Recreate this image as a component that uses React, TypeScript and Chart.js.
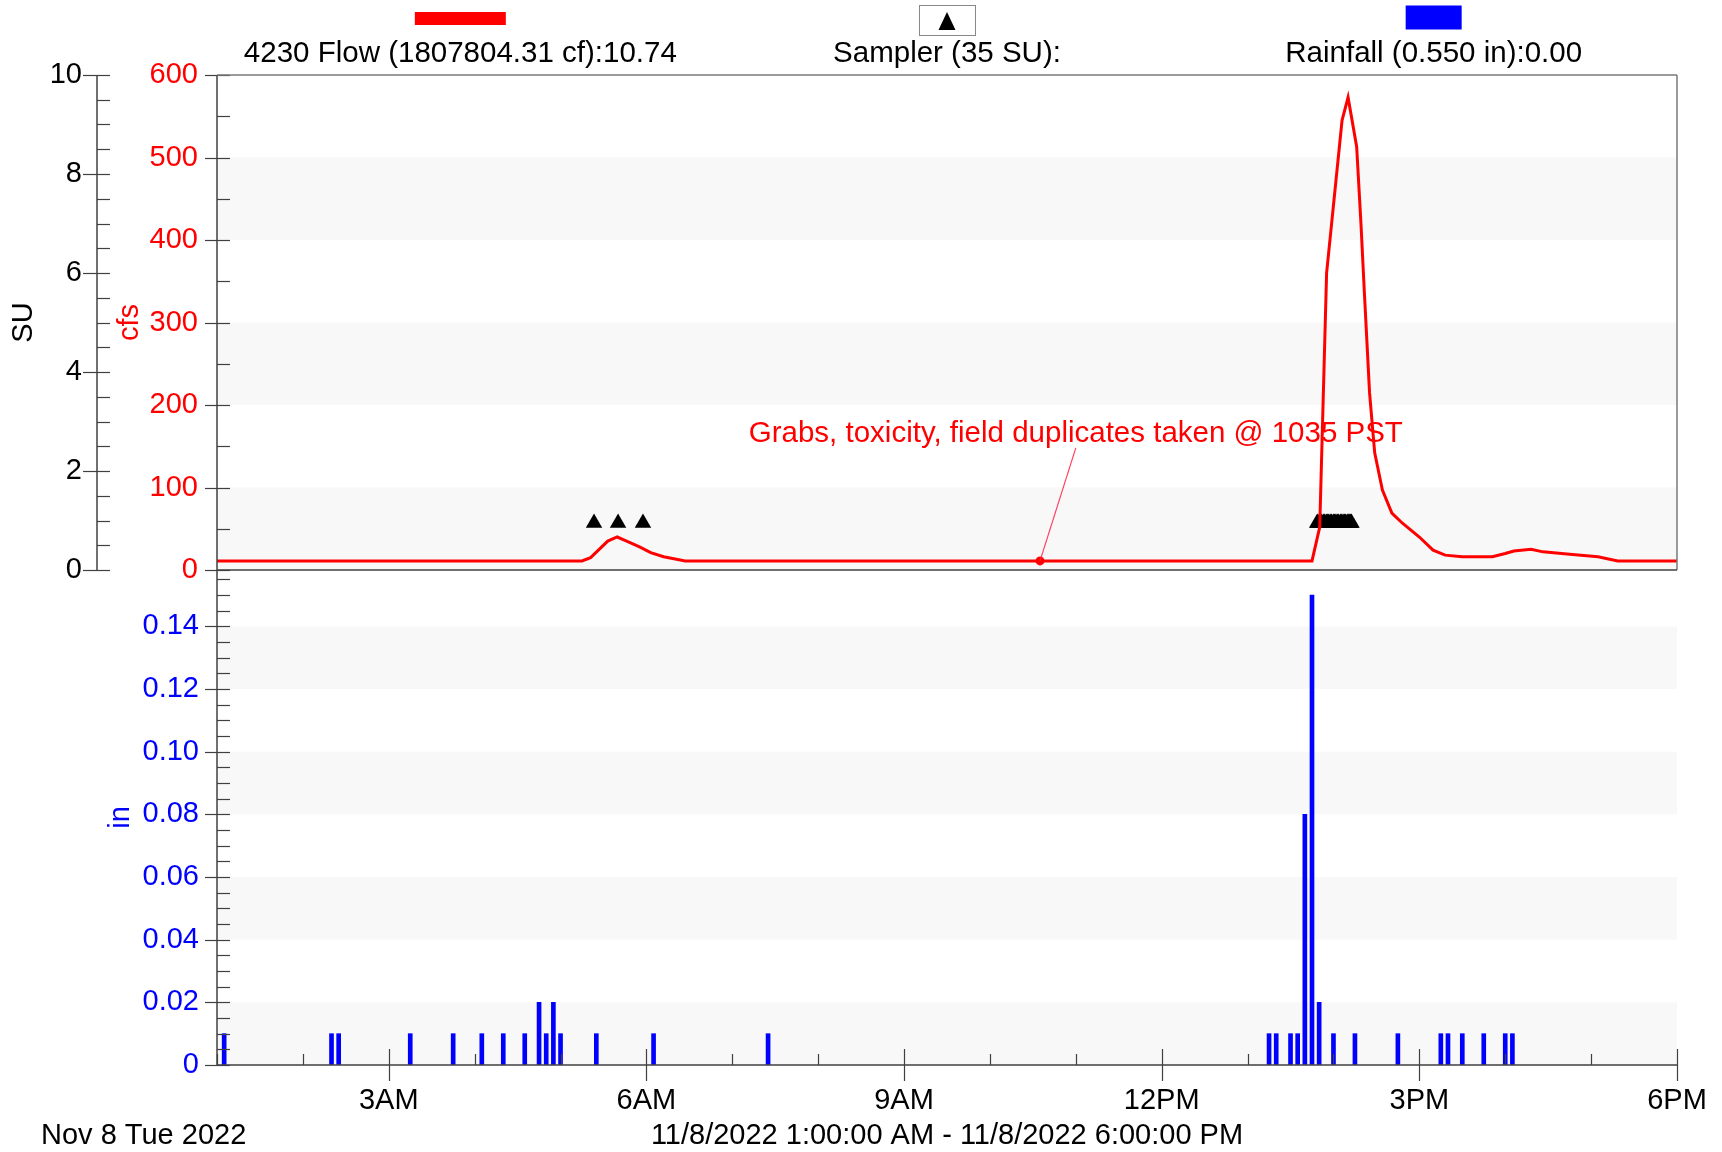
import React, { useEffect, useRef } from 'react';
import { Chart, registerables } from 'chart.js';

Chart.register(...registerables);

const FONT = "'Liberation Sans', Arial, Helvetica, sans-serif";

// ---- time axis (hours of 11/8/2022) ----
const timeStart = 1;
const timeEnd = 18;
const xTickHours = [3, 6, 9, 12, 15, 18];
const xTickLabels = ['3AM', '6AM', '9AM', '12PM', '3PM', '6PM'];
const dateLabel = 'Nov 8 Tue 2022';
const rangeLabel = '11/8/2022 1:00:00 AM - 11/8/2022 6:00:00 PM';

// ---- 4230 Flow (cfs) ----
const flowLabel = '4230 Flow (1807804.31 cf):10.74';
const flowTimes = [1.0, 5.25, 5.35, 5.45, 5.55, 5.66, 5.75, 5.92, 6.05, 6.2, 6.35, 6.45,
  13.75, 13.84, 13.92, 14.1, 14.17, 14.27, 14.32, 14.36, 14.42, 14.48, 14.57, 14.68, 14.8,
  15.0, 15.16, 15.3, 15.5, 15.85, 16.0, 16.1, 16.3, 16.44, 16.75, 17.08, 17.31, 18.0];
const flowValues = [11, 11, 15, 25, 35, 40, 36, 28, 21, 16, 13, 11,
  11, 52, 360, 545, 573, 513, 420, 336, 215, 142, 97, 69, 57,
  40, 24, 18, 16, 16, 20, 23, 25, 22, 19, 16, 11, 11];

// ---- Sampler (SU) ----
const samplerLabel = 'Sampler (35 SU):';
const samplerTimes = [5.39, 5.67, 5.96,
  13.81, 13.82, 13.84, 13.85, 13.86, 13.88, 13.89, 13.9, 13.92, 13.93, 13.94, 13.96, 13.97, 13.98,
  14.0, 14.01, 14.02, 14.04, 14.05, 14.06, 14.08, 14.09, 14.1, 14.12, 14.13, 14.14, 14.16, 14.17,
  14.18, 14.19, 14.2, 14.21];
const samplerValues = [0.95, 0.95, 0.95,
  0.95, 0.95, 0.95, 0.95, 0.95, 0.95, 0.95, 0.95, 0.95, 0.95, 0.95, 0.95, 0.95, 0.95,
  0.95, 0.95, 0.95, 0.95, 0.95, 0.95, 0.95, 0.95, 0.95, 0.95, 0.95, 0.95, 0.95, 0.95,
  0.95, 0.95, 0.95, 0.95];

// ---- Rainfall (in) ----
const rainLabel = 'Rainfall (0.550 in):0.00';
const rainTimes = ['1:05', '2:20', '2:25', '3:15', '3:45', '4:05', '4:20', '4:35', '4:45', '4:50',
  '4:55', '5:00', '5:25', '6:05', '7:25',
  '13:15', '13:20', '13:30', '13:35', '13:40', '13:45', '13:50', '14:00', '14:15', '14:45',
  '15:15', '15:20', '15:30', '15:45', '16:00', '16:05'];
const rainValues = [0.01, 0.01, 0.01, 0.01, 0.01, 0.01, 0.01, 0.01, 0.02, 0.01,
  0.02, 0.01, 0.01, 0.01, 0.01,
  0.01, 0.01, 0.01, 0.01, 0.08, 0.15, 0.02, 0.01, 0.01, 0.01,
  0.01, 0.01, 0.01, 0.01, 0.01, 0.01];

// ---- axes ----
const suTicks = [0, 2, 4, 6, 8, 10];
const cfsTicks = [0, 100, 200, 300, 400, 500, 600];
const inTicks = [0, 0.02, 0.04, 0.06, 0.08, 0.1, 0.12, 0.14];
const inMax = 0.158;
const cfsBands = [[0, 100], [200, 300], [400, 500]];
const inBands = [[0, 0.02], [0.04, 0.06], [0.08, 0.1], [0.12, 0.14]];

// ---- annotation ----
const annotationText = 'Grabs, toxicity, field duplicates taken @ 1035 PST';
const annotationTime = 10 + 35 / 60;
const annotationCfs = 11;
const annotationTextTime = 11.0;
const annotationTextCfs = 165;
const annotationLineEndCfs = 148;

const AXIS = '#404040';
const FRAME = '#7a7a7a';
const BAND = '#f8f8f8';

function hm(s: string) {
  const [h, m] = s.split(':').map(Number);
  return h + m / 60;
}

function seg(ctx: CanvasRenderingContext2D, x1: number, y1: number, x2: number, y2: number) {
  ctx.beginPath();
  ctx.moveTo(x1, y1);
  ctx.lineTo(x2, y2);
  ctx.stroke();
}

function drawYAxis(ctx: CanvasRenderingContext2D, scale: any, x: number, top: number, bottom: number,
  majors: number[], minorStep: number, majorOut: number, inLen: number) {
  ctx.save();
  ctx.strokeStyle = AXIS;
  ctx.lineWidth = 1.5;
  seg(ctx, x, top, x, bottom);
  ctx.lineWidth = 1.2;
  const n = Math.floor((scale.max - scale.min) / minorStep + 1e-6);
  for (let k = 0; k <= n; k++) {
    const v = scale.min + k * minorStep;
    const y = Math.round(scale.getPixelForValue(v)) + 0.5;
    const isMajor = majors.some((m) => Math.abs(m - v) < minorStep / 10);
    seg(ctx, isMajor ? x - majorOut : x, y, x + inLen, y);
  }
  ctx.restore();
}

function drawBands(ctx: CanvasRenderingContext2D, ca: any, scale: any, bands: number[][]) {
  ctx.save();
  ctx.fillStyle = BAND;
  for (const [a, b] of bands) {
    const ya = scale.getPixelForValue(a);
    const yb = scale.getPixelForValue(b);
    ctx.fillRect(ca.left, yb, ca.right - ca.left, ya - yb);
  }
  ctx.restore();
}

const panelA = {
  id: 'panelA',
  beforeDatasetsDraw(chart: any) {
    drawBands(chart.ctx, chart.chartArea, chart.scales.cfs, cfsBands);
  },
  afterDatasetsDraw(chart: any) {
    const { ctx, scales } = chart;
    const x = scales.x;
    const y = scales.cfs;
    ctx.save();
    ctx.strokeStyle = 'rgba(255,30,70,0.85)';
    ctx.lineWidth = 1.2;
    seg(ctx, x.getPixelForValue(annotationTime), y.getPixelForValue(annotationCfs),
      x.getPixelForValue(annotationTextTime), y.getPixelForValue(annotationLineEndCfs));
    ctx.fillStyle = '#ff0000';
    ctx.font = `29.5px ${FONT}`;
    ctx.textAlign = 'center';
    ctx.textBaseline = 'middle';
    ctx.fillText(annotationText, x.getPixelForValue(annotationTextTime), y.getPixelForValue(annotationTextCfs));
    ctx.restore();
  },
  afterDraw(chart: any) {
    const { ctx, chartArea: ca, scales } = chart;
    drawYAxis(ctx, scales.su, scales.su.right, ca.top, ca.bottom, suTicks, 0.5, 14, 13);
    drawYAxis(ctx, scales.cfs, ca.left, ca.top, ca.bottom, cfsTicks, 50, 12, 13);
    ctx.save();
    ctx.strokeStyle = FRAME;
    ctx.lineWidth = 1.5;
    seg(ctx, ca.left, ca.top, ca.right, ca.top);
    seg(ctx, ca.right, ca.top, ca.right, ca.bottom);
    ctx.strokeStyle = AXIS;
    seg(ctx, ca.left, ca.bottom, ca.right, ca.bottom);

    // legend
    const third = (ca.right - ca.left) / 3;
    const c = [0, 1, 2].map((i) => ca.left + third * (i + 0.5));
    ctx.fillStyle = '#ff0000';
    ctx.fillRect(c[0] - 45.5, 12, 91, 13);
    ctx.strokeStyle = '#888';
    ctx.lineWidth = 1;
    ctx.strokeRect(Math.round(c[1] - 28) + 0.5, 5.5, 56, 30);
    ctx.fillStyle = '#000';
    ctx.beginPath();
    ctx.moveTo(c[1], 12);
    ctx.lineTo(c[1] - 8.5, 30);
    ctx.lineTo(c[1] + 8.5, 30);
    ctx.closePath();
    ctx.fill();
    ctx.fillStyle = '#0000ff';
    ctx.fillRect(c[2] - 28, 5.5, 56, 24);
    ctx.fillStyle = '#000';
    ctx.font = `29.5px ${FONT}`;
    ctx.textAlign = 'center';
    ctx.textBaseline = 'middle';
    ctx.fillText(flowLabel, c[0], 54);
    ctx.fillText(samplerLabel, c[1], 54);
    ctx.fillText(rainLabel, c[2], 54);
    ctx.restore();
  },
};

const panelB = {
  id: 'panelB',
  beforeDatasetsDraw(chart: any) {
    drawBands(chart.ctx, chart.chartArea, chart.scales.rain, inBands);
  },
  afterDraw(chart: any) {
    const { ctx, chartArea: ca, scales } = chart;
    drawYAxis(ctx, scales.rain, ca.left, ca.top, ca.bottom, inTicks, 0.005, 12, 13);
    ctx.save();
    ctx.strokeStyle = AXIS;
    ctx.lineWidth = 1.5;
    seg(ctx, ca.left, ca.bottom, ca.right, ca.bottom);
    ctx.lineWidth = 1.2;
    for (let h = timeStart; h <= timeEnd; h++) {
      const px = Math.round(scales.x.getPixelForValue(h)) + 0.5;
      if (xTickHours.includes(h)) seg(ctx, px, ca.bottom - 16, px, ca.bottom + 16);
      else seg(ctx, px, ca.bottom - 11, px, ca.bottom);
    }
    ctx.fillStyle = '#000';
    ctx.font = `29px ${FONT}`;
    ctx.textAlign = 'left';
    ctx.textBaseline = 'middle';
    ctx.fillText(dateLabel, 41, chart.height - 16);
    ctx.restore();
  },
};

const tickFont = { size: 29, family: FONT };
const hiddenGrid = (len: number) => ({
  display: true, drawOnChartArea: false, drawTicks: true, tickLength: len, color: 'rgba(0,0,0,0)',
});

export default function App() {
  const refA = useRef<HTMLCanvasElement>(null);
  const refB = useRef<HTMLCanvasElement>(null);

  useEffect(() => {
    const chartA = new Chart(refA.current as HTMLCanvasElement, {
      type: 'line',
      data: {
        datasets: [
          {
            label: 'annotation',
            data: [{ x: annotationTime, y: annotationCfs }],
            yAxisID: 'cfs',
            showLine: false,
            pointRadius: 4.5,
            pointBackgroundColor: '#ff0000',
            pointBorderWidth: 0,
          },
          {
            label: flowLabel,
            data: flowTimes.map((t, i) => ({ x: t, y: flowValues[i] })),
            yAxisID: 'cfs',
            borderColor: '#ff0000',
            borderWidth: 3,
            pointRadius: 0,
            tension: 0,
            fill: false,
          },
          {
            label: samplerLabel,
            data: samplerTimes.map((t, i) => ({ x: t, y: samplerValues[i] })),
            yAxisID: 'su',
            showLine: false,
            pointStyle: 'triangle',
            pointRadius: 9.5,
            pointBackgroundColor: '#000',
            pointBorderColor: '#000',
            pointBorderWidth: 0,
          },
        ],
      } as any,
      options: {
        responsive: false,
        animation: false,
        events: [],
        layout: { padding: { left: 7, right: 45, top: 75, bottom: 30 } },
        plugins: { legend: { display: false }, tooltip: { enabled: false }, title: { display: false } },
        scales: {
          x: { type: 'linear', min: timeStart, max: timeEnd, display: false },
          su: {
            type: 'linear', position: 'left', weight: 1, min: 0, max: 10,
            afterBuildTicks: (s: any) => { s.ticks = suTicks.map((v) => ({ value: v })); },
            afterFit: (s: any) => { s.width = 90; },
            grid: hiddenGrid(15),
            border: { display: false },
            ticks: { padding: 0, color: '#000', font: tickFont, autoSkip: false },
            title: { display: true, text: 'SU', color: '#000', font: tickFont, padding: { top: 0, bottom: 0 } },
          },
          cfs: {
            type: 'linear', position: 'left', weight: 0, min: 0, max: 600,
            afterBuildTicks: (s: any) => { s.ticks = cfsTicks.map((v) => ({ value: v })); },
            afterFit: (s: any) => { s.width = 120; },
            grid: hiddenGrid(19),
            border: { display: false },
            ticks: { padding: 0, color: '#ff0000', font: tickFont, autoSkip: false },
            title: { display: true, text: 'cfs', color: '#ff0000', font: tickFont, padding: { top: 16, bottom: 0 } },
          },
        },
      } as any,
      plugins: [panelA],
    });

    const chartB = new Chart(refB.current as HTMLCanvasElement, {
      type: 'bar',
      data: {
        datasets: [
          {
            label: rainLabel,
            data: rainTimes.map((t, i) => ({ x: hm(t), y: rainValues[i] })),
            xAxisID: 'x',
            yAxisID: 'rain',
            backgroundColor: '#0000ff',
            borderWidth: 0,
            barThickness: 4,
          },
        ],
      } as any,
      options: {
        responsive: false,
        animation: false,
        events: [],
        layout: { padding: { left: 87, right: 45, top: 30, bottom: 0 } },
        plugins: { legend: { display: false }, tooltip: { enabled: false }, title: { display: false } },
        scales: {
          x: {
            type: 'linear', position: 'bottom', min: timeStart, max: timeEnd, offset: false,
            afterBuildTicks: (s: any) => { s.ticks = xTickHours.map((v) => ({ value: v })); },
            afterFit: (s: any) => { s.height = 87; },
            grid: hiddenGrid(18.5),
            border: { display: false },
            ticks: {
              padding: 0, color: '#000', font: tickFont, autoSkip: false, maxRotation: 0,
              callback: (v: any) => {
                const i = xTickHours.indexOf(Number(v));
                return i >= 0 ? xTickLabels[i] : '';
              },
            },
            title: { display: true, text: rangeLabel, color: '#000', font: tickFont, padding: { top: 0, bottom: -1 } },
          },
          rain: {
            type: 'linear', position: 'left', min: 0, max: inMax,
            afterBuildTicks: (s: any) => { s.ticks = inTicks.map((v) => ({ value: v })); },
            afterFit: (s: any) => { s.width = 130; },
            grid: hiddenGrid(18),
            border: { display: false },
            ticks: {
              padding: 0, color: '#0000ff', font: tickFont, autoSkip: false,
              callback: (v: any) => (Number(v) === 0 ? '0' : Number(v).toFixed(2)),
            },
            title: { display: true, text: 'in', color: '#0000ff', font: tickFont, padding: { top: 16.6, bottom: 0 } },
          },
        },
      } as any,
      plugins: [panelB],
    });

    return () => {
      chartA.destroy();
      chartB.destroy();
    };
  }, []);

  return (
    <div style={{ position: 'absolute', left: 0, top: 0, width: 1722, height: 1152, overflow: 'hidden', background: '#fff' }}>
      <canvas ref={refA} width={1722} height={600}
        style={{ position: 'absolute', left: 0, top: 0, width: 1722, height: 600 }} />
      <canvas ref={refB} width={1722} height={612}
        style={{ position: 'absolute', left: 0, top: 540, width: 1722, height: 612 }} />
    </div>
  );
}
